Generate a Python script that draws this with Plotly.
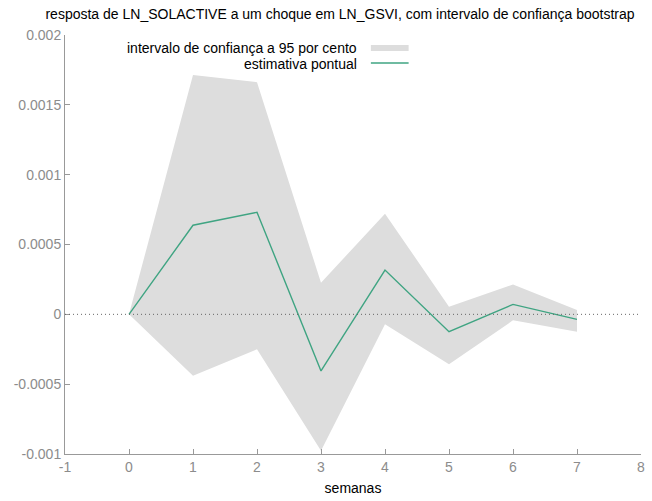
import plotly.graph_objects as go

weeks = [0, 1, 2, 3, 4, 5, 6, 7]
point_estimate = [0.0, 0.000638, 0.000731, -0.000405, 0.000317, -0.000124, 0.0000714, -0.0000357]
upper_95 = [0.0, 0.001714, 0.001662, 0.000226, 0.000721, 0.000055, 0.000214, 0.000031]
lower_95 = [0.0, -0.00044, -0.00025, -0.000976, -0.0000714, -0.000357, -0.0000429, -0.000124]

x_ticks = [-1, 0, 1, 2, 3, 4, 5, 6, 7, 8]
y_ticks = [-0.001, -0.0005, 0, 0.0005, 0.001, 0.0015, 0.002]
y_tick_text = ["-0.001", "-0.0005", "0", "0.0005", "0.001", "0.0015", "0.002"]

title_text = "resposta de LN_SOLACTIVE a um choque em LN_GSVI, com intervalo de confiança bootstrap"
band_label = "intervalo de confiança a 95 por cento"
line_label = "estimativa pontual"

band_color = "#dddddd"
line_color = "#3fa482"
font_family = "Liberation Sans, Arial, sans-serif"

W, H = 652, 501
ML, MR, MT, MB = 65, 7, 35, 46
PW, PH = W - ML - MR, H - MT - MB


def px_x(ax):  # page x -> paper x
    return (ax - ML) / PW


def px_y(ay):  # page y -> paper y
    return (H - MB - ay) / PH


fig = go.Figure()
fig.add_trace(go.Scatter(x=weeks, y=lower_95, mode="lines", line=dict(width=0, color=band_color),
                         showlegend=False, hoverinfo="skip"))
fig.add_trace(go.Scatter(x=weeks, y=upper_95, mode="lines", line=dict(width=0, color=band_color),
                         fill="tonexty", fillcolor=band_color, name=band_label, showlegend=False))
fig.add_trace(go.Scatter(x=weeks, y=point_estimate, mode="lines", line=dict(width=1.4, color=line_color),
                         name=line_label, showlegend=False))

# zero reference line
fig.add_shape(type="line", xref="paper", yref="y", x0=0, x1=1, y0=0, y1=0,
              line=dict(color="#666666", width=1, dash="1px,3px"), layer="above")

# custom legend (text right-aligned, key on the right, as in the reference)
fig.add_annotation(xref="paper", yref="paper", x=px_x(361), y=px_y(48),
                   text=band_label, showarrow=False, xanchor="right", yanchor="middle",
                   font=dict(size=14, color="#000000", family=font_family))
fig.add_annotation(xref="paper", yref="paper", x=px_x(361), y=px_y(64),
                   text=line_label, showarrow=False, xanchor="right", yanchor="middle",
                   font=dict(size=14, color="#000000", family=font_family))
fig.add_shape(type="rect", xref="paper", yref="paper",
              x0=px_x(373), x1=px_x(411), y0=px_y(51), y1=px_y(45),
              fillcolor=band_color, line=dict(width=0))
fig.add_shape(type="line", xref="paper", yref="paper",
              x0=px_x(373), x1=px_x(411), y0=px_y(63), y1=px_y(63),
              line=dict(color=line_color, width=1.4))

fig.update_layout(
    width=W, height=H,
    margin=dict(l=ML, r=MR, t=MT, b=MB),
    paper_bgcolor="white", plot_bgcolor="white",
    font=dict(family=font_family, size=14, color="#000000"),
    title=dict(text=title_text, x=340 / W, xanchor="center", y=1 - 14 / H, yanchor="middle",
               font=dict(size=14, color="#000000", family=font_family)),
    showlegend=False,
)
fig.update_xaxes(
    range=[-1, 8], tickvals=x_ticks, ticktext=[str(v) for v in x_ticks],
    showgrid=False, zeroline=False, showline=True, linecolor="#999999", linewidth=1,
    ticks="inside", ticklen=5, tickcolor="#999999",
    tickfont=dict(size=14, color="#8c8c8c", family=font_family),
    title=dict(text="semanas", font=dict(size=14, color="#000000", family=font_family), standoff=9),
)
fig.update_yaxes(
    range=[-0.001, 0.002], tickvals=y_ticks, ticktext=y_tick_text,
    showgrid=False, zeroline=False, showline=True, linecolor="#999999", linewidth=1,
    ticks="inside", ticklen=5, tickcolor="#999999",
    tickfont=dict(size=14, color="#8c8c8c", family=font_family),
)

fig.write_html("out.html", config={"displayModeBar": False},
               post_script="document.body.style.margin='0';")
